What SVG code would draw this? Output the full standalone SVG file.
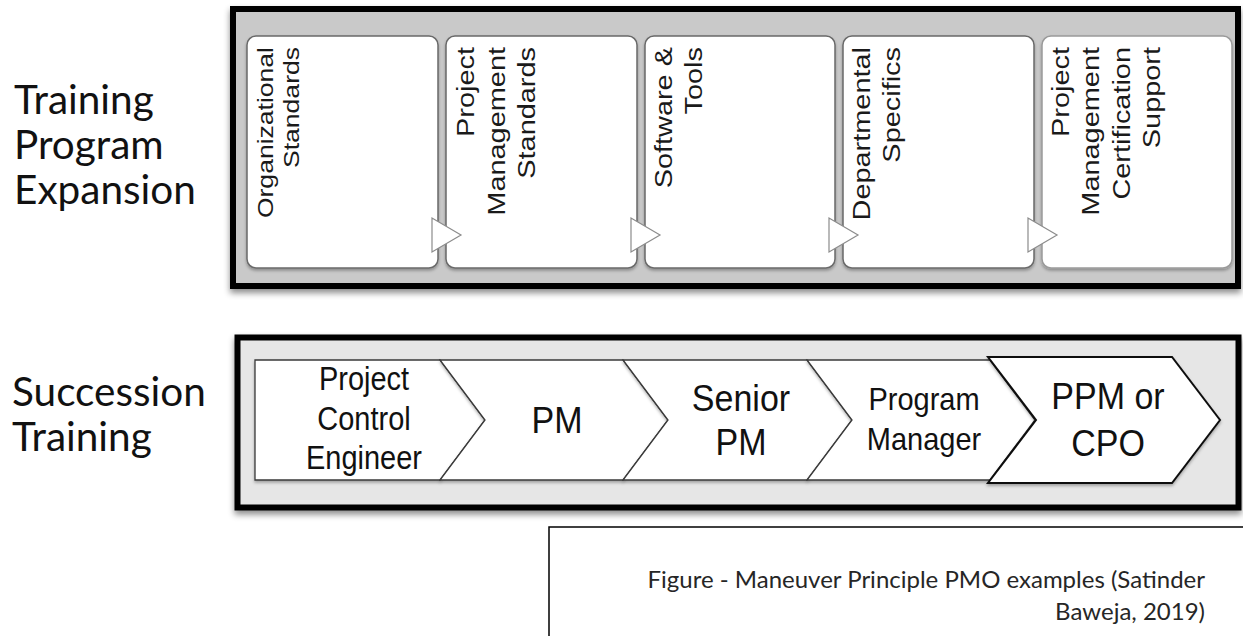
<svg xmlns="http://www.w3.org/2000/svg" width="1243" height="636" viewBox="0 0 1243 636">
<defs>
<style>
.bg{fill:#fff}
.panel1{fill:#c9c9c9;stroke:#000;stroke-width:6}
.panel2{fill:#e6e6e6;stroke:#000;stroke-width:6}
.lbl{font-family:Lato,"Open Sans","Liberation Sans",sans-serif;font-size:40.5px;fill:#111}
.box{fill:#fff;stroke:#6a6a6a;stroke-width:1.5}
.box5{fill:#fff;stroke:#9a9a9a;stroke-width:1.5}
.tri{fill:#fff;stroke:#8c8c8c;stroke-width:1.2}
.vt{font-family:"Liberation Sans",Arial,sans-serif;fill:#1a1a1a;text-anchor:end}
.chev{fill:#fff;stroke:#3a3a3a;stroke-width:1.3}
.chev5{fill:#fff;stroke:#111;stroke-width:2}
.ct{font-family:"Liberation Sans",Arial,sans-serif;fill:#111;text-anchor:middle}
.capbox{fill:#fff;stroke:#000;stroke-width:1.5}
.cap{font-family:Lato,"Open Sans","Liberation Sans",sans-serif;font-size:24px;fill:#262626;text-anchor:end}
</style>
<filter id="sh" x="-5%" y="-10%" width="110%" height="130%">
<feDropShadow dx="0" dy="4" stdDeviation="3" flood-color="#000" flood-opacity="0.45"/>
</filter>
<filter id="sh2" x="-10%" y="-10%" width="120%" height="130%">
<feDropShadow dx="0" dy="2" stdDeviation="1.5" flood-color="#000" flood-opacity="0.3"/>
</filter>
</defs>
<rect class="bg" x="0" y="0" width="1243" height="636"/>

<g id="label-training-program">
<text class="lbl"><tspan x="14" y="114">Training</tspan><tspan x="14" y="159">Program</tspan><tspan x="14" y="204">Expansion</tspan></text>
</g>
<g id="label-succession">
<text class="lbl"><tspan x="12" y="406">Succession</tspan><tspan x="12" y="451">Training</tspan></text>
</g>

<g id="panel-training">
<rect class="panel1" x="233" y="9" width="1005" height="277" filter="url(#sh)"/>
</g>

<g id="box-org">
<rect class="box" x="247" y="36" width="191" height="232" rx="9" filter="url(#sh2)"/>
<text class="vt" font-size="22.5" transform="translate(273,47) scale(1,1.18) rotate(-90)"><tspan x="0" y="0">Organizational</tspan><tspan x="0" dy="26.5">Standards</tspan></text>
</g>
<g id="box-pm-standards">
<rect class="box" x="446" y="36" width="191" height="232" rx="9" filter="url(#sh2)"/>
<text class="vt" font-size="24.5" transform="translate(474,47) scale(1,1.18) rotate(-90)"><tspan x="0" y="0">Project</tspan><tspan x="0" dy="30.7">Management</tspan><tspan x="0" dy="30.7">Standards</tspan></text>
</g>
<g id="box-software">
<rect class="box" x="645" y="36" width="190" height="232" rx="9" filter="url(#sh2)"/>
<text class="vt" font-size="24.5" transform="translate(672,47) scale(1,1.18) rotate(-90)"><tspan x="0" y="0">Software &amp;</tspan><tspan x="0" dy="30.5">Tools</tspan></text>
</g>
<g id="box-departmental">
<rect class="box" x="843" y="36" width="191" height="232" rx="9" filter="url(#sh2)"/>
<text class="vt" font-size="24.5" transform="translate(870,47) scale(1,1.18) rotate(-90)"><tspan x="0" y="0">Departmental</tspan><tspan x="0" dy="30.5">Specifics</tspan></text>
</g>
<g id="box-certification">
<rect class="box5" x="1042" y="36" width="190" height="232" rx="9" filter="url(#sh2)"/>
<text class="vt" font-size="24.5" transform="translate(1069,47) scale(1,1.18) rotate(-90)"><tspan x="0" y="0">Project</tspan><tspan x="0" dy="30.5">Management</tspan><tspan x="0" dy="30.5">Certification</tspan><tspan x="0" dy="30.5">Support</tspan></text>
</g>

<g id="connectors">
<polygon class="tri" points="432,218 432,252 461,235"/>
<polygon class="tri" points="631,218 631,252 660,235"/>
<polygon class="tri" points="829,218 829,252 858,235"/>
<polygon class="tri" points="1028,218 1028,252 1057,235"/>
</g>

<g id="panel-succession">
<rect class="panel2" x="237.5" y="337.5" width="1001" height="170" filter="url(#sh)"/>
</g>

<g id="chev-pce">
<polygon class="chev" points="255,360 440,360 485,420 440,480 255,480" filter="url(#sh2)"/>
<text class="ct" font-size="29" transform="translate(364,390) scale(1,1.12)"><tspan x="0" y="0">Project</tspan><tspan x="0" dy="35.4">Control</tspan><tspan x="0" dy="35.4">Engineer</tspan></text>
</g>
<g id="chev-pm">
<polygon class="chev" points="440,360 623,360 668,420 623,480 440,480 485,420" filter="url(#sh2)"/>
<text class="ct" font-size="34" transform="translate(557,433) scale(1,1.1)">PM</text>
</g>
<g id="chev-senior">
<polygon class="chev" points="623,360 807,360 852,420 807,480 623,480 668,420" filter="url(#sh2)"/>
<text class="ct" font-size="34" transform="translate(741,411) scale(1,1.1)"><tspan x="0" y="0">Senior</tspan><tspan x="0" dy="40">PM</tspan></text>
</g>
<g id="chev-program">
<polygon class="chev" points="807,360 990,360 1035,420 990,480 807,480 852,420" filter="url(#sh2)"/>
<text class="ct" font-size="29" transform="translate(924,410) scale(1,1.08)"><tspan x="0" y="0">Program</tspan><tspan x="0" dy="37">Manager</tspan></text>
</g>
<g id="chev-ppm">
<polygon class="chev5" points="988,357 1172,357 1220,420 1172,483 988,483 1036,420" filter="url(#sh2)"/>
<text class="ct" font-size="34" transform="translate(1108,409) scale(1,1.1)"><tspan x="0" y="0">PPM or</tspan><tspan x="0" dy="42.4">CPO</tspan></text>
</g>

<g id="caption">
<rect class="capbox" x="549" y="527" width="720" height="140"/>
<text class="cap"><tspan x="1205" y="588">Figure  - Maneuver Principle PMO examples (Satinder</tspan><tspan x="1205" y="620">Baweja, 2019)</tspan></text>
</g>
</svg>
